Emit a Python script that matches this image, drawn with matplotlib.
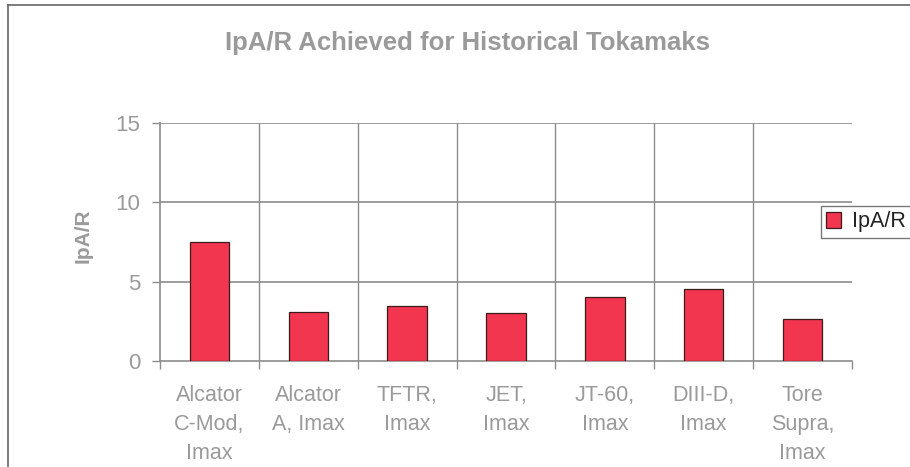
import matplotlib
matplotlib.use("Agg")
import matplotlib.pyplot as plt
import numpy as np

categories = ["Alcator\nC-Mod,\nImax", "Alcator\nA, Imax", "TFTR,\nImax", "JET,\nImax",
              "JT-60,\nImax", "DIII-D,\nImax", "Tore\nSupra,\nImax"]
values = [7.52, 3.10, 3.46, 3.03, 4.04, 4.53, 2.65]
yticks = [0, 5, 10, 15]

plt.rcParams['font.family'] = ['Liberation Sans', 'DejaVu Sans']
gray_text = "#9a9a9a"
grid_c = "#8c8c8c"

fig = plt.figure(figsize=(9.1, 4.67), dpi=100)
ax = fig.add_axes([160/910, 1-361/467, (852-160)/910, (361-123)/467])

x = np.arange(len(categories))
ax.bar(x, values, width=0.4, color="#F2364F", edgecolor="#3a1a1a", linewidth=0.9,
       label="IpA/R", zorder=3)

ax.set_xlim(-0.5, len(categories)-0.5)
ax.set_ylim(0, 15)
ax.set_yticks(yticks)
ax.set_yticklabels([str(t) for t in yticks])
ax.set_xticks(x)
ax.set_xticklabels(categories, linespacing=1.52, va="top")
ax.tick_params(axis="x", length=0, pad=17, labelsize=15.5, colors=gray_text)
ax.tick_params(axis="y", length=6, width=1, color=grid_c, labelsize=16, colors=gray_text, pad=8)
ax.set_xticks(np.arange(-0.5, len(categories)), minor=True)
ax.tick_params(axis="x", which="minor", length=6, width=1, color=grid_c)

for yv in yticks[1:]:
    ax.axhline(yv, color=grid_c, lw=1.2, zorder=1)
for xv in np.arange(0.5, len(categories)-0.5):
    ax.axvline(xv, color=grid_c, lw=1.0, zorder=1)

for s in ["top", "right"]:
    ax.spines[s].set_visible(False)
ax.spines["left"].set_color(grid_c)
ax.spines["bottom"].set_color(grid_c)
ax.spines["left"].set_linewidth(1.2)
ax.spines["bottom"].set_linewidth(1.2)

ax.set_ylabel("IpA/R", fontsize=15, fontweight="bold", color=gray_text)
ax.yaxis.set_label_coords(-(160-93)/692, (361-236)/238)

fig.text(468/910, 1-43/467, "IpA/R Achieved for Historical Tokamaks", ha="center", va="center",
         fontsize=18.5, fontweight="bold", color=gray_text)

leg = ax.legend(loc="center left", bbox_to_anchor=(821/910, 1-222/467), bbox_transform=fig.transFigure,
                frameon=True, fancybox=False, fontsize=15.5, handlelength=0.7, handleheight=0.7,
                handletextpad=0.5, borderpad=0.25, borderaxespad=0)
leg.get_frame().set_edgecolor("#555555")
leg.get_frame().set_linewidth(1.0)
for t in leg.get_texts():
    t.set_color("#222222")

# outer frame lines (top and left)
fig.add_artist(plt.Line2D([8/910, 1], [1-5/467, 1-5/467], transform=fig.transFigure, color="#666666", lw=1.2))
fig.add_artist(plt.Line2D([8/910, 8/910], [0, 1-5/467], transform=fig.transFigure, color="#666666", lw=1.2))

fig.savefig("out.png", dpi=100)
